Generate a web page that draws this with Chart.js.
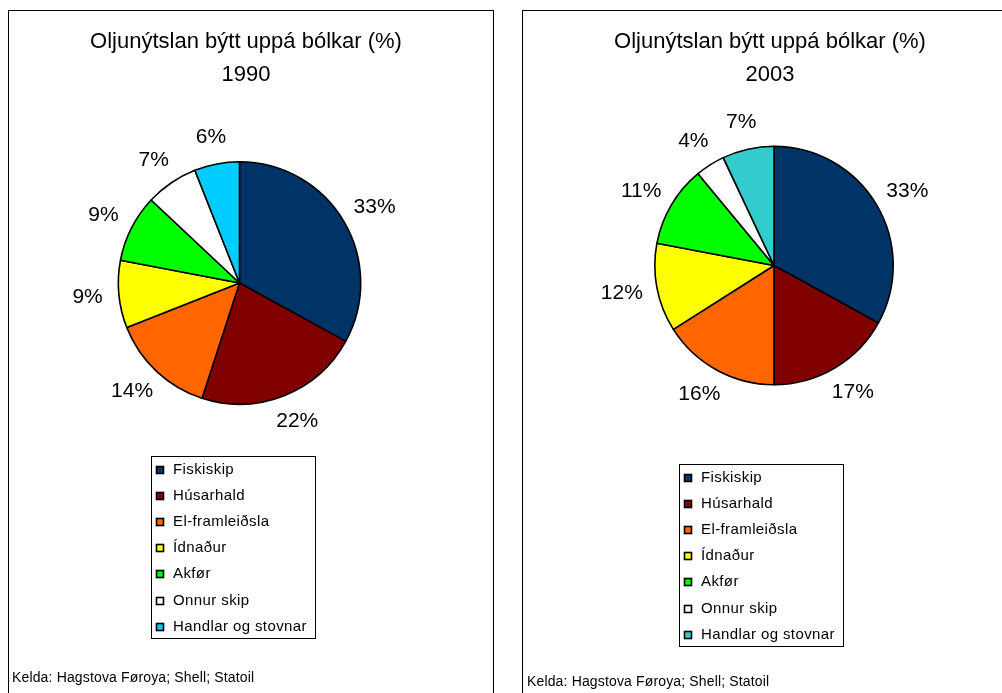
<!DOCTYPE html>
<html>
<head>
<meta charset="utf-8">
<script src="https://cdn.jsdelivr.net/npm/chart.js@4.4.0/dist/chart.umd.min.js"></script>
<style>
  body { margin: 0; background: #fff; width: 1002px; height: 693px; overflow: hidden; position: relative; }
  .panel { position: absolute; top: 10px; height: 720px; border: 1px solid #000; box-sizing: border-box; }
  #p1 { left: 8px; width: 486px; }
  #p2 { left: 522px; width: 500px; }
  canvas { position: absolute; top: 0; }
  #c1 { left: 0; }
  #c2 { left: 505px; }
</style>
</head>
<body>
<div class="panel" id="p1"></div>
<div class="panel" id="p2"></div>
<canvas id="c1" width="505" height="693"></canvas>
<canvas id="c2" width="497" height="693"></canvas>
<script>
// Oil use split by sector, share in percent
const categories = ['Fiskiskip', 'Húsarhald', 'El-framleiðsla', 'Ídnaður', 'Akfør', 'Onnur skip', 'Handlar og stovnar'];
const share1990 = [33, 22, 14, 9, 9, 7, 6];
const share2003 = [33, 17, 16, 12, 11, 4, 7];
const chartTitle = 'Oljunýtslan býtt uppá bólkar (%)';
const sourceNote = 'Kelda: Hagstova Føroya; Shell; Statoil';

const colors1990 = ['#003366', '#800000', '#FF6600', '#FFFF00', '#00FF00', '#FFFFFF', '#00CCFF'];
const colors2003 = ['#003366', '#800000', '#FF6600', '#FFFF00', '#00FF00', '#FFFFFF', '#33CCCC'];

const FONT = '"Liberation Sans", Arial, sans-serif';

// draws title, percent labels, boxed legend and source line
const decorations = {
  id: 'decorations',
  afterDatasetsDraw(chart, args, opts) {
    const ctx = chart.ctx;
    const ds = chart.data.datasets[0];
    const meta = chart.getDatasetMeta(0);
    ctx.save();
    ctx.fillStyle = '#000';

    // title
    ctx.font = '22px ' + FONT;
    ctx.textAlign = 'center';
    ctx.textBaseline = 'alphabetic';
    ctx.fillText(chartTitle, opts.titleX, 48);
    ctx.fillText(opts.year, opts.titleX, 81);

    // percent labels outside the slices, pushed out by half the text box
    ctx.font = '21px ' + FONT;
    ctx.textBaseline = 'middle';
    meta.data.forEach((arc, i) => {
      const txt = ds.data[i] + '%';
      const a = (arc.startAngle + arc.endAngle) / 2;
      const hw = ctx.measureText(txt).width / 2 * 0.75;
      const hh = 10 * 0.75;
      const d = arc.outerRadius + 20;
      const x = arc.x + Math.cos(a) * (d + hw);
      const y = arc.y + Math.sin(a) * (d + hh);
      ctx.fillText(txt, x, y);
    });

    // legend
    const lg = opts.legend;
    ctx.strokeStyle = '#000';
    ctx.lineWidth = 1;
    ctx.strokeRect(lg.x + 0.5, lg.y + 0.5, lg.w, lg.h);
    ctx.font = '15px ' + FONT;
    ctx.letterSpacing = '0.4px';
    ctx.textAlign = 'left';
    chart.data.labels.forEach((lab, i) => {
      const y = lg.y + 13.5 + i * 26.2;
      const my = Math.round(y) - 4;
      ctx.fillStyle = ds.backgroundColor[i];
      ctx.fillRect(lg.x + 5, my, 8, 8);
      ctx.lineWidth = 1.6;
      ctx.strokeRect(lg.x + 5.5, my + 0.5, 7, 7);
      ctx.fillStyle = '#000';
      ctx.fillText(lab, lg.x + 22, y);
    });

    // source
    ctx.font = '14px ' + FONT;
    ctx.letterSpacing = '0.15px';
    ctx.textBaseline = 'alphabetic';
    ctx.fillText(sourceNote, opts.source.x, opts.source.y);
    ctx.restore();
  }
};

function makePie(id, values, colors, year, g) {
  const canvas = document.getElementById(id);
  const W = canvas.width, H = canvas.height;
  return new Chart(canvas, {
    type: 'pie',
    data: {
      labels: categories,
      datasets: [{
        data: values,
        backgroundColor: colors,
        borderColor: '#000',
        borderWidth: 1.6
      }]
    },
    options: {
      responsive: false,
      animation: false,
      layout: {
        padding: {
          left: g.cx - g.r - 1,
          top: g.cy - g.r - 1,
          right: W - (g.cx + g.r + 1),
          bottom: H - (g.cy + g.r + 1)
        }
      },
      plugins: {
        legend: { display: false },
        tooltip: { enabled: false },
        decorations: { year: year, titleX: g.titleX, legend: g.legend, source: g.source }
      }
    },
    plugins: [decorations]
  });
}

makePie('c1', share1990, colors1990, '1990', {
  cx: 239.5, cy: 283, r: 121, titleX: 246,
  legend: { x: 151, y: 456, w: 164, h: 182 },
  source: { x: 12, y: 682 }
});

makePie('c2', share2003, colors2003, '2003', {
  cx: 269, cy: 265.5, r: 119, titleX: 265,
  legend: { x: 174, y: 464, w: 164, h: 182 },
  source: { x: 22, y: 686 }
});
</script>
</body>
</html>
